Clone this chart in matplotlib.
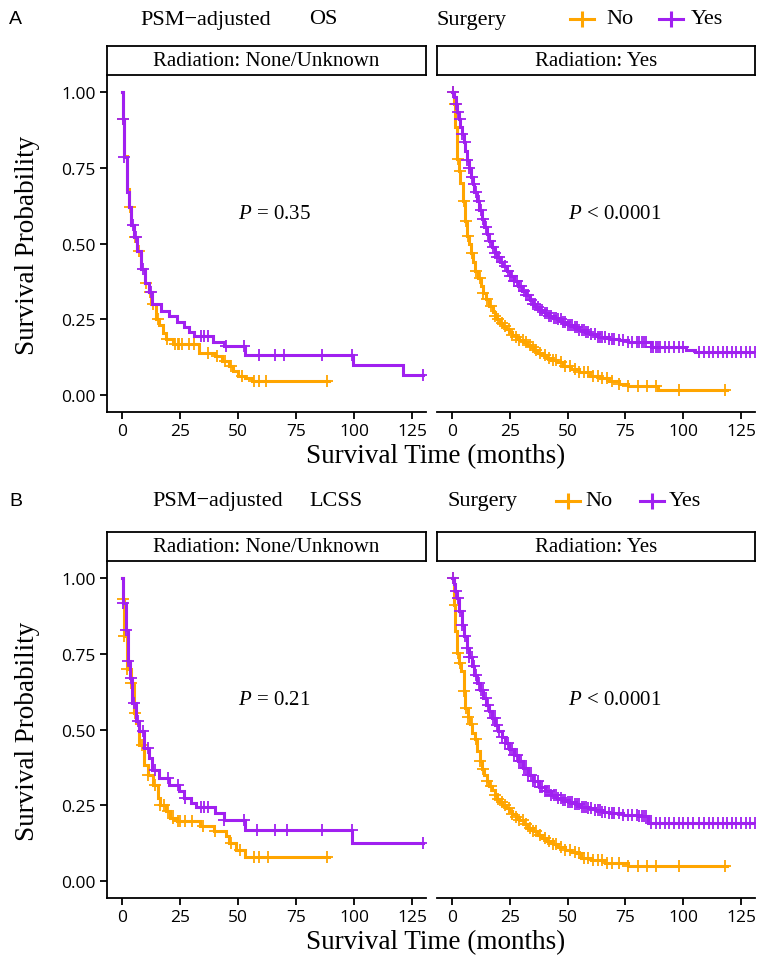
import numpy as np
import matplotlib.pyplot as plt
from matplotlib.lines import Line2D

plt.rcParams['mathtext.fontset'] = 'custom'
plt.rcParams['mathtext.rm'] = 'Liberation Serif'
plt.rcParams['mathtext.it'] = 'Liberation Serif:italic'

W, H = 758, 962
ORANGE = '#FFA500'
PURPLE = '#A020F0'
SERIF = 'Liberation Serif'
TICK_FONT = ['Open Sans', 'DejaVu Sans']

# ---------------- data ----------------
# step points (months, survival), curve end, censor times

# A, OS, Radiation: None/Unknown
os_none_no_t = [0, 0.3, 1, 2, 3, 4, 5, 6.5, 8, 10, 11.7, 12.5, 14.6, 16, 17.5, 19, 22, 33, 40, 43, 46, 48, 50, 53, 56]
os_none_no_s = [1.0, 0.91, 0.79, 0.68, 0.62, 0.56, 0.52, 0.475, 0.415, 0.37, 0.34, 0.30, 0.25, 0.23, 0.205, 0.185,
                0.168, 0.14, 0.128, 0.113, 0.097, 0.08, 0.064, 0.055, 0.045]
os_none_no_end = 89
os_none_no_cens = [0.3, 3.2, 5.5, 7.5, 10.5, 12, 13.5, 15.5, 19.5, 23, 24, 24.5, 26, 29, 31, 37, 41, 44.5, 47,
                   51.5, 57, 59, 62, 88.5]

os_none_yes_t = [0, 0.5, 1, 2, 3, 4, 5, 6.5, 8, 10, 11.7, 13, 16.7, 20.3, 23.8, 26.8, 29, 31, 39, 44, 53, 99.5, 121]
os_none_yes_s = [1.0, 0.91, 0.785, 0.67, 0.62, 0.56, 0.52, 0.475, 0.415, 0.37, 0.34, 0.30, 0.278, 0.26, 0.24,
                 0.225, 0.207, 0.196, 0.175, 0.163, 0.133, 0.098, 0.065]
os_none_yes_end = 129.5
os_none_yes_cens = [0.5, 1.0, 4.5, 6, 9, 12.5, 34, 35.5, 37, 45, 52.5, 59, 66, 70, 86, 99, 129.5]

# A, OS, Radiation: Yes
os_rad_no_t = [0, 0.7, 1.4, 2.1, 2.9, 3.6, 4.6, 5.7, 6.4, 7.3, 8.2, 9.1, 10, 11.2, 12.5, 13.5, 14.6, 16, 17.5,
               18.5, 19.5, 20.8, 22, 23.3, 24.6, 26, 27.5, 29, 30.8, 32.5, 34, 35.5, 37, 39, 41, 43, 45.3, 48,
               51.5, 55, 59.8, 64, 68, 72, 76, 89]
os_rad_no_s = [1.0, 0.96, 0.885, 0.78, 0.74, 0.70, 0.64, 0.576, 0.526, 0.50, 0.47, 0.44, 0.41, 0.385, 0.36,
               0.337, 0.317, 0.295, 0.274, 0.262, 0.25, 0.238, 0.228, 0.217, 0.207, 0.198, 0.19, 0.182, 0.175,
               0.166, 0.157, 0.148, 0.14, 0.131, 0.123, 0.115, 0.108, 0.097, 0.086, 0.075, 0.064, 0.055, 0.047,
               0.038, 0.03, 0.018]
os_rad_no_end = 119
os_rad_no_cens = [0.5, 1.2, 2.5, 3.5, 5, 6, 7, 8.5, 10.5, 12, 13.5, 15, 17, 18.5, 20, 21.5, 23, 24.5, 26, 27.5,
                  29, 30.5, 32, 33.5, 35, 36.5, 38, 40, 42, 43.5, 45, 47, 49, 51, 53, 55, 57, 59, 61, 63, 65,
                  67, 69, 72, 76, 80.5, 84.5, 88, 98, 118]

os_rad_yes_t = [0, 0.7, 1.5, 2.2, 2.9, 3.6, 4.3, 5, 5.8, 6.5, 7.2, 8, 8.9, 9.7, 10.8, 11.8, 12.9, 14, 15, 16.1,
                17.2, 18.4, 19.5, 20.8, 22, 23.6, 25, 26.8, 28.6, 30.2, 31.9, 33.5, 35, 36.5, 38, 40, 42, 43.7,
                45.3, 47.5, 50, 52.6, 55, 57.5, 59.8, 63, 68, 72, 76, 86, 101, 105]
os_rad_yes_s = [1.0, 0.985, 0.96, 0.935, 0.91, 0.885, 0.86, 0.835, 0.805, 0.775, 0.75, 0.72, 0.695, 0.67, 0.64,
                0.61, 0.58, 0.555, 0.533, 0.51, 0.49, 0.47, 0.455, 0.44, 0.427, 0.41, 0.393, 0.376, 0.36, 0.345,
                0.33, 0.315, 0.302, 0.29, 0.28, 0.27, 0.262, 0.255, 0.25, 0.24, 0.232, 0.224, 0.215, 0.207, 0.2,
                0.193, 0.185, 0.18, 0.175, 0.158, 0.148, 0.142]
os_rad_yes_end = 131
os_rad_yes_cens = [0.5, 1.5, 2.5, 3.5, 4.5, 5.5, 6.5, 7.5, 8.5, 9.5, 10.5, 11.5, 12.5, 13.5, 14.5, 15.5, 16.5,
                   17.5, 18.5, 19.5, 20.5, 21.5, 23, 24, 25, 26, 27, 28, 29, 30, 31, 32, 33, 34, 35, 36, 37,
                   38, 39, 40, 41, 42, 43, 44, 45, 46, 47, 48, 49, 50, 51, 52, 53, 54, 55, 56, 57, 58, 59, 60,
                   62, 63, 64, 65, 66, 68, 69, 70, 72, 74, 76, 78, 80, 81, 82, 83, 84, 86, 87, 88, 89, 90, 92,
                   94, 96, 98, 100, 107, 109, 111, 113, 115, 117, 119, 121, 123, 125, 127, 129, 131]

# B, LCSS, Radiation: None/Unknown
lcss_none_no_t = [0, 0.3, 1, 2.2, 3.7, 5.2, 6, 7.3, 9.5, 11, 13.2, 15.6, 16.5, 19, 20.8, 23.6, 33.5, 39.5, 44.6,
                  46, 49, 53]
lcss_none_no_s = [1.0, 0.93, 0.81, 0.70, 0.653, 0.554, 0.52, 0.45, 0.384, 0.35, 0.318, 0.274, 0.252, 0.23,
                  0.208, 0.198, 0.18, 0.165, 0.148, 0.125, 0.103, 0.08]
lcss_none_no_end = 89
lcss_none_no_cens = [0.3, 1.0, 2.2, 3.7, 5.5, 8.5, 11, 14, 16.5, 18, 20, 22, 24, 25, 27, 30, 35, 40, 47, 51,
                     57, 59, 63, 88.5]

lcss_none_yes_t = [0, 0.5, 1.6, 2.7, 3.5, 4.4, 6, 7.3, 9.5, 11.7, 13, 16, 20.3, 24.5, 26.8, 29.7, 32, 40, 44,
                   53, 99.3]
lcss_none_yes_s = [1.0, 0.918, 0.83, 0.726, 0.67, 0.587, 0.527, 0.495, 0.44, 0.405, 0.367, 0.34, 0.318, 0.297,
                   0.274, 0.257, 0.246, 0.224, 0.202, 0.169, 0.125]
lcss_none_yes_end = 129.5
lcss_none_yes_cens = [0.5, 1.6, 2.7, 4, 5, 7, 9, 11, 14, 20, 24, 27, 34, 35.5, 37, 44, 52.5, 58, 66, 71, 86,
                      99, 129.5]

# B, LCSS, Radiation: Yes
lcss_rad_no_t = [0, 0.7, 1.4, 2.1, 3, 3.9, 5, 5.7, 6.8, 7.8, 8.8, 9.9, 11, 12, 13, 14, 15, 16.2, 17.3, 18.4,
                 19.5, 20.6, 21.8, 23.2, 24.6, 26, 27.5, 29, 31, 33, 35, 37, 39, 41.2, 43.5, 46, 49, 51.5, 53.6,
                 55.8, 60, 66, 76]
lcss_rad_no_s = [1.0, 0.91, 0.825, 0.752, 0.72, 0.693, 0.627, 0.57, 0.54, 0.517, 0.49, 0.47, 0.43, 0.396, 0.37,
                 0.35, 0.33, 0.315, 0.3, 0.285, 0.272, 0.26, 0.25, 0.24, 0.23, 0.22, 0.21, 0.2, 0.188, 0.175,
                 0.164, 0.152, 0.142, 0.132, 0.122, 0.113, 0.104, 0.097, 0.092, 0.076, 0.068, 0.06, 0.048]
lcss_rad_no_end = 119
lcss_rad_no_cens = [0.5, 1.2, 2.5, 3.5, 5, 6, 7, 8.5, 10.5, 12, 13.5, 15, 17, 18.5, 20, 21.5, 23, 24.5, 26,
                    27.5, 29, 30.5, 32, 33.5, 35, 36.5, 38, 40, 42, 43.5, 45, 47, 49, 51, 53, 55, 57, 59, 61,
                    63, 65, 67, 69, 72, 76, 80.5, 84.5, 88, 98, 118]

lcss_rad_yes_t = [0, 0.7, 1.4, 2.1, 3.2, 4.3, 5.3, 6.4, 7.5, 8.6, 9.7, 11, 12.3, 13.6, 14.8, 16, 17.2, 18.6, 20,
                  21.5, 23, 24.8, 26.6, 28.7, 30.8, 32.8, 34.9, 37.5, 40, 42.6, 45.3, 47.6, 50, 53, 55.7, 59, 62,
                  65, 68, 74, 80.5, 84.6]
lcss_rad_yes_s = [1.0, 0.98, 0.957, 0.934, 0.89, 0.846, 0.81, 0.77, 0.74, 0.71, 0.68, 0.655, 0.63, 0.604, 0.582,
                  0.56, 0.538, 0.515, 0.495, 0.475, 0.455, 0.435, 0.417, 0.395, 0.373, 0.35, 0.33, 0.31, 0.297,
                  0.284, 0.274, 0.267, 0.26, 0.253, 0.246, 0.24, 0.235, 0.229, 0.224, 0.218, 0.213, 0.193]
lcss_rad_yes_end = 131
lcss_rad_yes_cens = [0.5, 1.5, 2.5, 3.5, 4.5, 5.5, 6.5, 7.5, 8.5, 9.5, 10.5, 11.5, 12.5, 13.5, 14.5, 15.5,
                     16.5, 17.5, 18.5, 19.5, 20.5, 21.5, 23, 24, 25, 26, 27, 28, 29, 30, 31, 32, 33, 34, 35,
                     36, 37, 38, 39, 40, 41, 42, 43, 44, 45, 46, 47, 48, 49, 50, 51, 52, 53, 54, 55, 56, 57,
                     58, 59, 60, 62, 63, 64, 65, 66, 68, 69, 70, 72, 74, 76, 78, 80, 81, 82, 83, 84, 86, 88,
                     90, 92, 94, 96, 98, 100, 102, 104, 107, 109, 111, 113, 115, 117, 119, 121, 123, 125, 127,
                     129, 131]

strip_labels = ['Radiation: None/Unknown', 'Radiation: Yes']
x_ticks = [0, 25, 50, 75, 100, 125]
y_ticks = [0.0, 0.25, 0.5, 0.75, 1.0]
y_tick_labels = ['0.00', '0.25', '0.50', '0.75', '1.00']
p_values = [['$P$ = 0.35', '$P$ < 0.0001'], ['$P$ = 0.21', '$P$ < 0.0001']]
endpoints = ['OS', 'LCSS']
panel_tags = ['A', 'B']

curves = [
    [((os_none_no_t, os_none_no_s, os_none_no_end, os_none_no_cens),
      (os_none_yes_t, os_none_yes_s, os_none_yes_end, os_none_yes_cens)),
     ((os_rad_no_t, os_rad_no_s, os_rad_no_end, os_rad_no_cens),
      (os_rad_yes_t, os_rad_yes_s, os_rad_yes_end, os_rad_yes_cens))],
    [((lcss_none_no_t, lcss_none_no_s, lcss_none_no_end, lcss_none_no_cens),
      (lcss_none_yes_t, lcss_none_yes_s, lcss_none_yes_end, lcss_none_yes_cens)),
     ((lcss_rad_no_t, lcss_rad_no_s, lcss_rad_no_end, lcss_rad_no_cens),
      (lcss_rad_yes_t, lcss_rad_yes_s, lcss_rad_yes_end, lcss_rad_yes_cens))],
]

fig = plt.figure(figsize=(W / 100, H / 100), dpi=100)


def fx(x):
    return x / W


def fy(y):
    return 1 - y / H


def axes_px(left, top, right, bottom):
    return fig.add_axes([fx(left), fy(bottom), (right - left) / W, (bottom - top) / H])


def draw_km(ax, t, s, t_end, cens, color):
    tt = list(t) + [t_end]
    ss = list(s) + [s[-1]]
    ax.step(tt, ss, where='post', color=color, lw=2.2, solid_joinstyle='miter')
    idx = np.searchsorted(t, cens, side='right') - 1
    ax.plot(cens, np.asarray(s)[idx], ls='none', marker='+', ms=8, mew=1.3, color=color)


col_x = [(107, 426), (437, 755)]
row_off = [0, 486]
header_y = [20, 502]
xlab_y = [457, 943]

for r in range(2):
    off = row_off[r]
    # header line: tag, title and legend
    hy = fy(header_y[r])
    fig.text(fx(9), hy, panel_tags[r], fontsize=14, family='Liberation Sans', va='center')
    if r == 0:
        pos = dict(psm=140, ep=309, surg=437, k1=570, no=606, k2=659, yes=691)
    else:
        pos = dict(psm=152, ep=309, surg=447, k1=556, no=585, k2=640, yes=669)
    fig.text(fx(pos['psm']), hy, 'PSM\u2212adjusted', fontsize=16, family=SERIF, va='center')
    fig.text(fx(pos['ep']), hy, endpoints[r], fontsize=16, family=SERIF, va='center')
    fig.text(fx(pos['surg']), hy, 'Surgery', fontsize=16, family=SERIF, va='center')
    for kx, col, lab, lx in [(pos['k1'], ORANGE, 'No', pos['no']), (pos['k2'], PURPLE, 'Yes', pos['yes'])]:
        fig.add_artist(Line2D([fx(kx), fx(kx + 24)], [hy, hy], color=col, lw=2.2, transform=fig.transFigure))
        fig.add_artist(Line2D([fx(kx + 12)], [hy], color=col, marker='|', ms=11, mew=2.2, ls='none',
                              transform=fig.transFigure))
        fig.text(fx(lx), hy, lab, fontsize=16, family=SERIF, va='center')

    for c in range(2):
        x0, x1 = col_x[c]
        # facet strip
        sax = axes_px(x0, 47 + off, x1, 76 + off)
        sax.set_xticks([])
        sax.set_yticks([])
        for sp in sax.spines.values():
            sp.set_linewidth(1.3)
        sax.text(0.5, 0.5, strip_labels[c], transform=sax.transAxes, ha='center', va='center',
                 fontsize=15, family=SERIF)

        ax = axes_px(x0, 77 + off, x1, 413 + off)
        no_curve, yes_curve = curves[r][c]
        draw_km(ax, *no_curve, ORANGE)
        draw_km(ax, *yes_curve, PURPLE)
        ax.set_xlim(-6.5, 131)
        ax.set_ylim(-0.056, 1.053)
        ax.set_xticks(x_ticks)
        ax.set_xticklabels([str(v) for v in x_ticks], family=TICK_FONT, fontsize=12.5)
        ax.spines['top'].set_visible(False)
        ax.spines['right'].set_visible(False)
        ax.spines['bottom'].set_linewidth(1.3)
        ax.spines['left'].set_linewidth(1.3)
        ax.tick_params(axis='x', length=5, width=1.3, pad=3)
        if c == 0:
            ax.set_yticks(y_ticks)
            ax.set_yticklabels(y_tick_labels, family=TICK_FONT, fontsize=12.5)
            ax.tick_params(axis='y', length=5, width=1.3, pad=3)
        else:
            ax.spines['left'].set_visible(False)
            ax.set_yticks([])
        ax.text(50, 0.6, p_values[r][c], fontsize=15, family=SERIF, va='center', ha='left')

    # axis titles
    fig.text(fx(436), fy(xlab_y[r]), 'Survival Time (months)', fontsize=19.5, family=SERIF,
             ha='center', va='center')
    fig.text(fx(27), fy(245 + off), 'Survival Probability', fontsize=19.5, family=SERIF,
             ha='center', va='center', rotation=90)

fig.savefig('out.png', dpi=100)
